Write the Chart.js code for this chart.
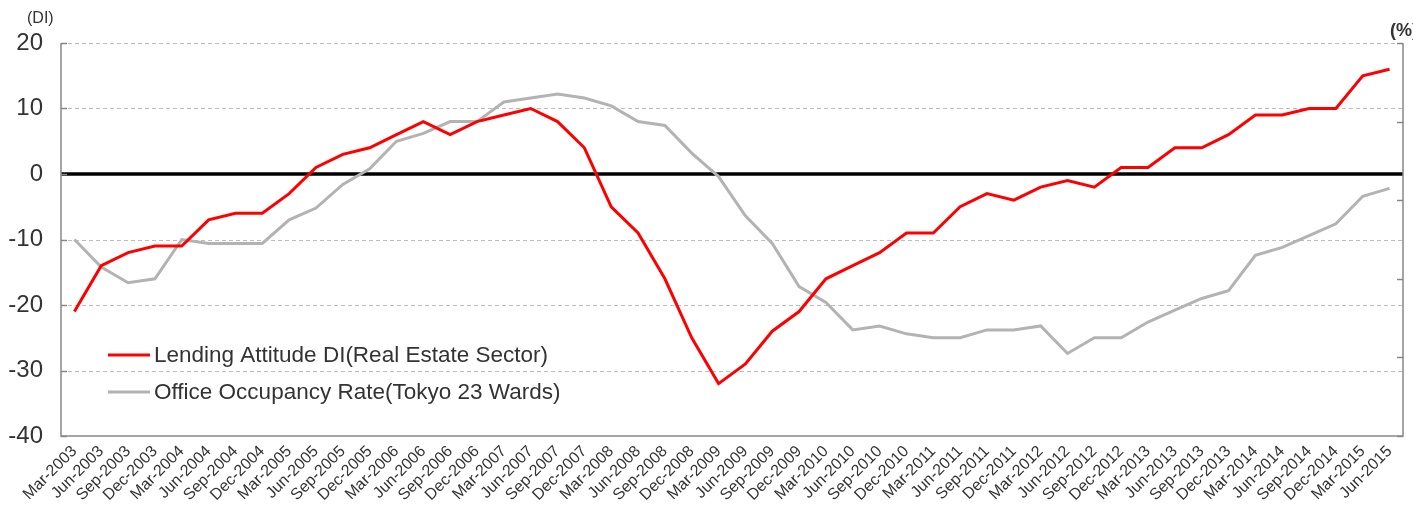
<!DOCTYPE html>
<html>
<head>
<meta charset="utf-8">
<script src="https://cdn.jsdelivr.net/npm/chart.js@4.4.1/dist/chart.umd.min.js"></script>
<style>
html, body { margin: 0; padding: 0; background: #fff; }
#wrap { width: 1413px; height: 522px; }
</style>
</head>
<body>
<div id="wrap"><canvas id="lendingChart" width="1413" height="522"></canvas></div>
<script>
var quarters = [
    'Mar-2003', 'Jun-2003', 'Sep-2003', 'Dec-2003', 'Mar-2004', 'Jun-2004', 'Sep-2004', 'Dec-2004',
    'Mar-2005', 'Jun-2005', 'Sep-2005', 'Dec-2005', 'Mar-2006', 'Jun-2006', 'Sep-2006', 'Dec-2006',
    'Mar-2007', 'Jun-2007', 'Sep-2007', 'Dec-2007', 'Mar-2008', 'Jun-2008', 'Sep-2008', 'Dec-2008',
    'Mar-2009', 'Jun-2009', 'Sep-2009', 'Dec-2009', 'Mar-2010', 'Jun-2010', 'Sep-2010', 'Dec-2010',
    'Mar-2011', 'Jun-2011', 'Sep-2011', 'Dec-2011', 'Mar-2012', 'Jun-2012', 'Sep-2012', 'Dec-2012',
    'Mar-2013', 'Jun-2013', 'Sep-2013', 'Dec-2013', 'Mar-2014', 'Jun-2014', 'Sep-2014', 'Dec-2014',
    'Mar-2015', 'Jun-2015'
];

// Lending attitude DI, real estate sector (left axis)
var lendingDi = [
    -21, -14, -12, -11, -11, -7, -6, -6,
    -3, 1, 3, 4, 6, 8, 6, 8,
    9, 10, 8, 4, -5, -9, -16, -25,
    -32, -29, -24, -21, -16, -14, -12, -9,
    -9, -5, -3, -4, -2, -1, -2, 1,
    1, 4, 4, 6, 9, 9, 10, 10,
    15, 16
];

// Office occupancy rate, Tokyo 23 wards, % (right axis)
var officeOccupancy = [
    93.0, 92.3, 91.9, 92.0, 93.0, 92.9, 92.9, 92.9,
    93.5, 93.8, 94.4, 94.8, 95.5, 95.7, 96.0, 96.0,
    96.5, 96.6, 96.7, 96.6, 96.4, 96.0, 95.9, 95.2,
    94.6, 93.6, 92.9, 91.8, 91.4, 90.7, 90.8, 90.6,
    90.5, 90.5, 90.7, 90.7, 90.8, 90.1, 90.5, 90.5,
    90.9, 91.2, 91.5, 91.7, 92.6, 92.8, 93.1, 93.4,
    94.1, 94.3
];

var diTicks = [20, 10, 0, -10, -20, -30, -40];
var occupancyTicks = [88, 90, 92, 94, 96, 98];

var seriesNames = ['Lending Attitude DI(Real Estate Sector)', 'Office Occupancy Rate(Tokyo 23 Wards)'];
var seriesColors = ['#ff0000', '#b3b3b3'];

Chart.defaults.font.family = "'Liberation Sans', Arial, sans-serif";
Chart.defaults.color = '#333333';

// dashed grid, heavy zero line and inward tick marks
var gridPlugin = {
    id: 'gridPlugin',
    beforeDatasetsDraw: function (chart) {
        var ctx = chart.ctx;
        var area = chart.chartArea;
        var y = chart.scales.y;
        ctx.save();
        ctx.strokeStyle = '#bdbdbd';
        ctx.lineWidth = 1;
        ctx.setLineDash([4, 3]);
        for (var i = 0; i < diTicks.length; i++) {
            var v = diTicks[i];
            if (v === 0 || v === y.min) continue;
            var py = Math.round(y.getPixelForValue(v)) + 0.5;
            ctx.beginPath();
            ctx.moveTo(area.left, py);
            ctx.lineTo(area.right, py);
            ctx.stroke();
        }
        ctx.setLineDash([]);
        var zy = y.getPixelForValue(0);
        ctx.strokeStyle = '#000000';
        ctx.lineWidth = 3.5;
        ctx.beginPath();
        ctx.moveTo(area.left, zy);
        ctx.lineTo(area.right, zy);
        ctx.stroke();
        ctx.restore();
    },
    afterDatasetsDraw: function (chart) {
        var ctx = chart.ctx;
        var area = chart.chartArea;
        var y = chart.scales.y;
        var y2 = chart.scales.y2;
        ctx.save();
        ctx.strokeStyle = '#888888';
        ctx.lineWidth = 1.5;
        ctx.beginPath();
        ctx.moveTo(area.left, area.top);
        ctx.lineTo(area.left, area.bottom);
        ctx.lineTo(area.right, area.bottom);
        ctx.lineTo(area.right, area.top);
        ctx.stroke();
        var i, py;
        for (i = 0; i < diTicks.length; i++) {
            py = Math.round(y.getPixelForValue(diTicks[i])) + 0.5;
            ctx.beginPath();
            ctx.moveTo(area.left, py);
            ctx.lineTo(area.left + 6, py);
            ctx.stroke();
        }
        for (i = 0; i < occupancyTicks.length; i++) {
            py = Math.round(y2.getPixelForValue(occupancyTicks[i])) + 0.5;
            ctx.beginPath();
            ctx.moveTo(area.right - 6, py);
            ctx.lineTo(area.right, py);
            ctx.stroke();
        }
        ctx.restore();
    },
    afterDraw: function (chart) {
        var ctx = chart.ctx;
        ctx.save();
        ctx.fillStyle = '#333333';
        ctx.textBaseline = 'middle';
        ctx.font = "16px 'Liberation Sans', Arial, sans-serif";
        ctx.fillText('(DI)', 27, 19);
        ctx.font = "bold 18px 'Liberation Sans', Arial, sans-serif";
        ctx.fillText('(%)', 1390, 31);

        // legend inside the plot
        ctx.font = "22.5px 'Liberation Sans', Arial, sans-serif";
        var rows = [355, 392];
        for (var i = 0; i < seriesNames.length; i++) {
            ctx.strokeStyle = seriesColors[i];
            ctx.lineWidth = 3;
            ctx.beginPath();
            ctx.moveTo(108, rows[i]);
            ctx.lineTo(150, rows[i]);
            ctx.stroke();
            ctx.fillStyle = '#333333';
            ctx.fillText(seriesNames[i], 154, rows[i] + 1);
        }
        ctx.restore();
    }
};

new Chart(document.getElementById('lendingChart'), {
    type: 'line',
    data: {
        labels: quarters,
        datasets: [{
            label: seriesNames[0],
            data: lendingDi,
            borderColor: seriesColors[0],
            borderWidth: 3,
            pointRadius: 0,
            yAxisID: 'y'
        }, {
            label: seriesNames[1],
            data: officeOccupancy,
            borderColor: seriesColors[1],
            borderWidth: 3,
            pointRadius: 0,
            yAxisID: 'y2'
        }]
    },
    options: {
        responsive: false,
        animation: false,
        devicePixelRatio: 1,
        layout: { padding: { top: 43, left: 0, right: 0, bottom: 0 } },
        plugins: { legend: { display: false }, tooltip: { enabled: false } },
        scales: {
            x: {
                offset: true,
                grid: { display: false, drawTicks: false },
                border: { display: false },
                ticks: { autoSkip: false, maxRotation: 45, minRotation: 45, padding: 6, color: '#333333', font: { size: 16 } },
                afterFit: function (s) { s.height = 86; }
            },
            y: {
                position: 'left',
                min: -40,
                max: 20,
                grid: { display: false, drawTicks: false },
                border: { display: false },
                ticks: { stepSize: 10, padding: 18, color: '#333333', font: { size: 24 } },
                afterFit: function (s) { s.width = 61; }
            },
            y2: {
                position: 'right',
                min: 88,
                max: 98,
                grid: { display: false, drawTicks: false },
                border: { display: false },
                ticks: { stepSize: 2, display: false },
                afterFit: function (s) { s.width = 10; }
            }
        }
    },
    plugins: [gridPlugin]
});
</script>
</body>
</html>
